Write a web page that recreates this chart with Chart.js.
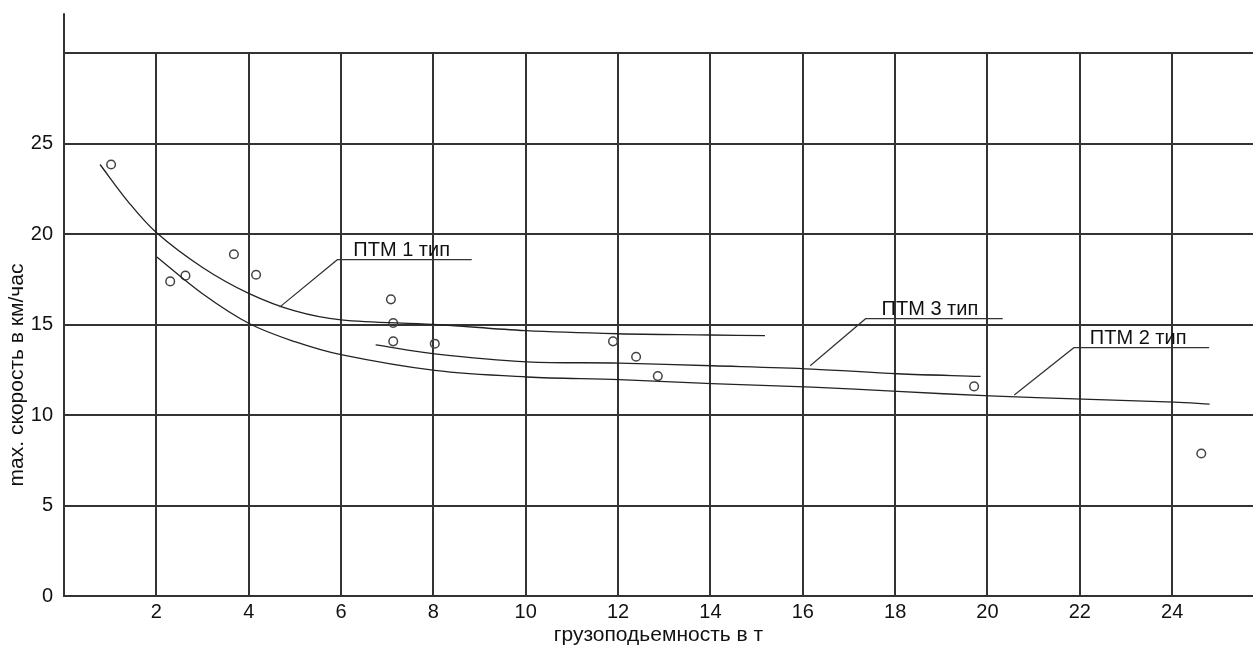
<!DOCTYPE html>
<html>
<head>
<meta charset="utf-8">
<script src="https://cdn.jsdelivr.net/npm/chart.js@4.4.1/dist/chart.umd.min.js"></script>
<style>
  html, body { margin: 0; padding: 0; background: #fff; }
  #wrap { width: 1253px; height: 646px; }
</style>
</head>
<body>
<div id="wrap"><canvas id="c" width="1253" height="646"></canvas></div>
<script>
// ---- data ----
const xTitle = 'грузоподьемность в т';
const yTitle = 'max. скорость в км/час';

// measured points (open circles)
const pointsX = [1.02, 2.30, 2.63, 3.68, 4.16, 7.08, 7.13, 7.13, 8.03, 11.89, 12.39, 12.86, 19.71, 24.63];
const pointsY = [23.84, 17.38, 17.70, 18.88, 17.75, 16.39, 15.08, 14.07, 13.94, 14.07, 13.22, 12.15, 11.58, 7.87];

// ПТМ 1 тип curve
const type1X = [0.78, 1.4, 2.0, 3.0, 4.0, 5.0, 6.0, 8.0, 10.0, 12.0, 14.0, 15.18];
const type1Y = [23.84, 21.75, 20.08, 18.15, 16.72, 15.75, 15.26, 15.01, 14.66, 14.49, 14.42, 14.38];

// ПТМ 2 тип curve
const type2X = [2.01, 3.0, 4.02, 5.0, 6.0, 8.03, 10.03, 12.03, 14.03, 16.2, 18.05, 20.05, 22.06, 24.05, 24.81];
const type2Y = [18.73, 16.7, 15.04, 14.05, 13.33, 12.46, 12.10, 11.95, 11.73, 11.54, 11.30, 11.06, 10.88, 10.71, 10.60];

// ПТМ 3 тип curve
const type3X = [6.75, 8.03, 10.03, 12.03, 14.03, 16.2, 18.05, 19.85];
const type3Y = [13.87, 13.38, 12.94, 12.87, 12.72, 12.54, 12.28, 12.13];

// curve labels: text, shelf start/end (data units), leader end (data units)
const labelTexts = ['ПТМ 1 тип', 'ПТМ 3 тип', 'ПТМ 2 тип'];
const shelfX0 = [5.92, 17.36, 21.87];
const shelfX1 = [8.83, 20.33, 24.80];
const shelfY  = [18.58, 15.32, 13.72];
const leaderX = [4.67, 16.16, 20.58];
const leaderY = [15.96, 12.72, 11.11];

const yTicks = [0, 5, 10, 15, 20, 25, 30];
const xTicks = [0, 2, 4, 6, 8, 10, 12, 14, 16, 18, 20, 22, 24];

// ---- build ----
const zip = (xs, ys) => xs.map((x, i) => ({ x: x, y: ys[i] }));
const FONT = "'Liberation Sans', Arial, sans-serif";
const GRID = '#333333';

const curveStyle = {
  type: 'line', showLine: true, pointRadius: 0, borderColor: '#222',
  borderWidth: 1.3, tension: 0.35, fill: false
};

const extras = {
  id: 'extras',
  afterDraw(chart) {
    const ctx = chart.ctx, xs = chart.scales.x, ys = chart.scales.y, a = chart.chartArea;
    ctx.save();
    // y axis extends above the grid
    ctx.strokeStyle = GRID; ctx.lineWidth = 2;
    ctx.beginPath();
    ctx.moveTo(a.left, a.top);
    ctx.lineTo(a.left, ys.getPixelForValue(32.2));
    ctx.stroke();
    // curve labels with leaders
    ctx.strokeStyle = '#333'; ctx.lineWidth = 1.2;
    ctx.fillStyle = '#111';
    ctx.font = '20px ' + FONT;
    ctx.textAlign = 'left'; ctx.textBaseline = 'alphabetic';
    labelTexts.forEach((t, i) => {
      const sx0 = xs.getPixelForValue(shelfX0[i]);
      const sx1 = xs.getPixelForValue(shelfX1[i]);
      const sy = ys.getPixelForValue(shelfY[i]);
      const lx = xs.getPixelForValue(leaderX[i]);
      const ly = ys.getPixelForValue(leaderY[i]);
      ctx.beginPath();
      ctx.moveTo(lx, ly); ctx.lineTo(sx0, sy); ctx.lineTo(sx1, sy);
      ctx.stroke();
      ctx.fillText(t, sx0 + 16, sy - 4);
    });
    // y title
    ctx.save();
    ctx.font = '21px ' + FONT;
    ctx.translate(17, 375);
    ctx.rotate(-Math.PI / 2);
    ctx.textAlign = 'center'; ctx.textBaseline = 'middle';
    ctx.fillText(yTitle, 0, 0);
    ctx.restore();
    ctx.restore();
  }
};

new Chart(document.getElementById('c'), {
  type: 'scatter',
  data: {
    datasets: [
      Object.assign({ label: 'ПТМ 1 тип', data: zip(type1X, type1Y) }, curveStyle),
      Object.assign({ label: 'ПТМ 2 тип', data: zip(type2X, type2Y) }, curveStyle),
      Object.assign({ label: 'ПТМ 3 тип', data: zip(type3X, type3Y) }, curveStyle),
      {
        label: 'points', data: zip(pointsX, pointsY), showLine: false,
        pointRadius: 4.3, pointBorderWidth: 1.5, pointBorderColor: '#444',
        pointBackgroundColor: 'rgba(255,255,255,0)'
      }
    ]
  },
  options: {
    responsive: false,
    animation: false,
    layout: { autoPadding: false, padding: { top: 53, left: 0, right: 0, bottom: 0 } },
    plugins: { legend: { display: false }, tooltip: { enabled: false }, title: { display: false } },
    scales: {
      x: {
        type: 'linear', min: 0, max: 25.75,
        afterFit(s) { s.height = 50; s.paddingRight = 0; s.paddingLeft = 0; },
        afterBuildTicks(s) { s.ticks = xTicks.map(v => ({ value: v })); },
        ticks: {
          autoSkip: false, maxRotation: 0, padding: 4, color: '#111',
          font: { family: FONT, size: 20 },
          callback: v => (v === 0 ? '' : String(v))
        },
        grid: { color: GRID, lineWidth: 2, drawTicks: false },
        border: { color: GRID, width: 2 },
        title: {
          display: true, text: xTitle, color: '#111',
          font: { family: FONT, size: 21, lineHeight: 1 },
          padding: { top: 0, bottom: 0 }
        }
      },
      y: {
        type: 'linear', min: 0, max: 30,
        afterFit(s) { s.width = 64; s.paddingTop = 0; s.paddingBottom = 0; },
        afterBuildTicks(s) { s.ticks = yTicks.map(v => ({ value: v })); },
        ticks: {
          padding: 11, color: '#111',
          font: { family: FONT, size: 20 },
          callback: v => (v === 30 ? '' : String(v))
        },
        grid: { color: GRID, lineWidth: 2, drawTicks: false },
        border: { color: GRID, width: 2 }
      }
    }
  },
  plugins: [extras]
});
</script>
</body>
</html>
